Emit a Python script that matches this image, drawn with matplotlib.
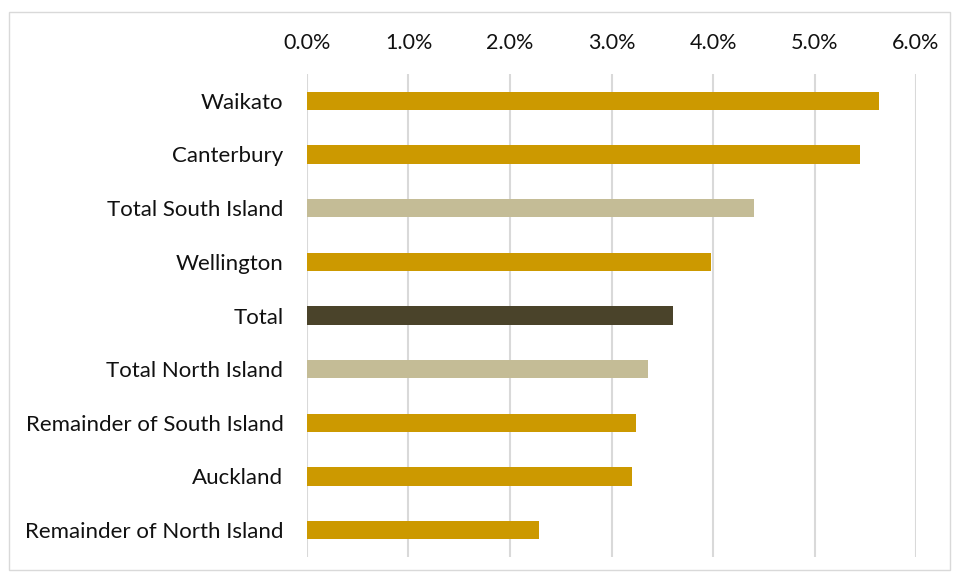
import matplotlib.pyplot as plt
from matplotlib.patches import Rectangle
from matplotlib.ticker import FuncFormatter

# Regional growth, ordered top to bottom
regions = ['Waikato', 'Canterbury', 'Total South Island', 'Wellington', 'Total',
           'Total North Island', 'Remainder of South Island', 'Auckland',
           'Remainder of North Island']
growth = [5.64, 5.45, 4.40, 3.98, 3.61, 3.36, 3.24, 3.20, 2.29]
kinds = ['region', 'region', 'island', 'region', 'total',
         'island', 'region', 'region', 'region']

palette = {'region': '#CC9900', 'island': '#C4BC96', 'total': '#4A432A'}

plt.rcParams['font.family'] = ['Lato', 'DejaVu Sans']

fig = plt.figure(figsize=(9.54, 5.75), dpi=100)
fig.patches.append(Rectangle((9 / 954, 1 - 570 / 575), 941 / 954, 558 / 575,
                             transform=fig.transFigure, fill=False,
                             edgecolor='#D9D9D9', linewidth=1.0))

ax = fig.add_axes([307 / 954, 1 - 557 / 575, 609 / 954, 483 / 575])
ypos = list(range(len(regions)))
ax.barh(ypos, [g / 100 for g in growth], height=0.34,
        color=[palette[k] for k in kinds], zorder=3)

ax.set_xlim(0, 0.06)
ax.set_ylim(len(regions) - 0.5, -0.5)
ax.set_xticks([i / 100 for i in range(7)])
ax.xaxis.set_major_formatter(FuncFormatter(lambda v, p: '{:.1f}%'.format(v * 100)))
ax.xaxis.tick_top()
ax.set_yticks(ypos)
ax.set_yticklabels(regions)
ax.tick_params(length=0, labelsize=15.5, colors='#111111')
ax.tick_params(axis='x', pad=15)
ax.tick_params(axis='y', pad=17, labelsize=16)
ax.grid(axis='x', color='#D9D9D9', linewidth=1.5, zorder=0)
for s in ax.spines.values():
    s.set_visible(False)

fig.savefig('out.png', dpi=100)
